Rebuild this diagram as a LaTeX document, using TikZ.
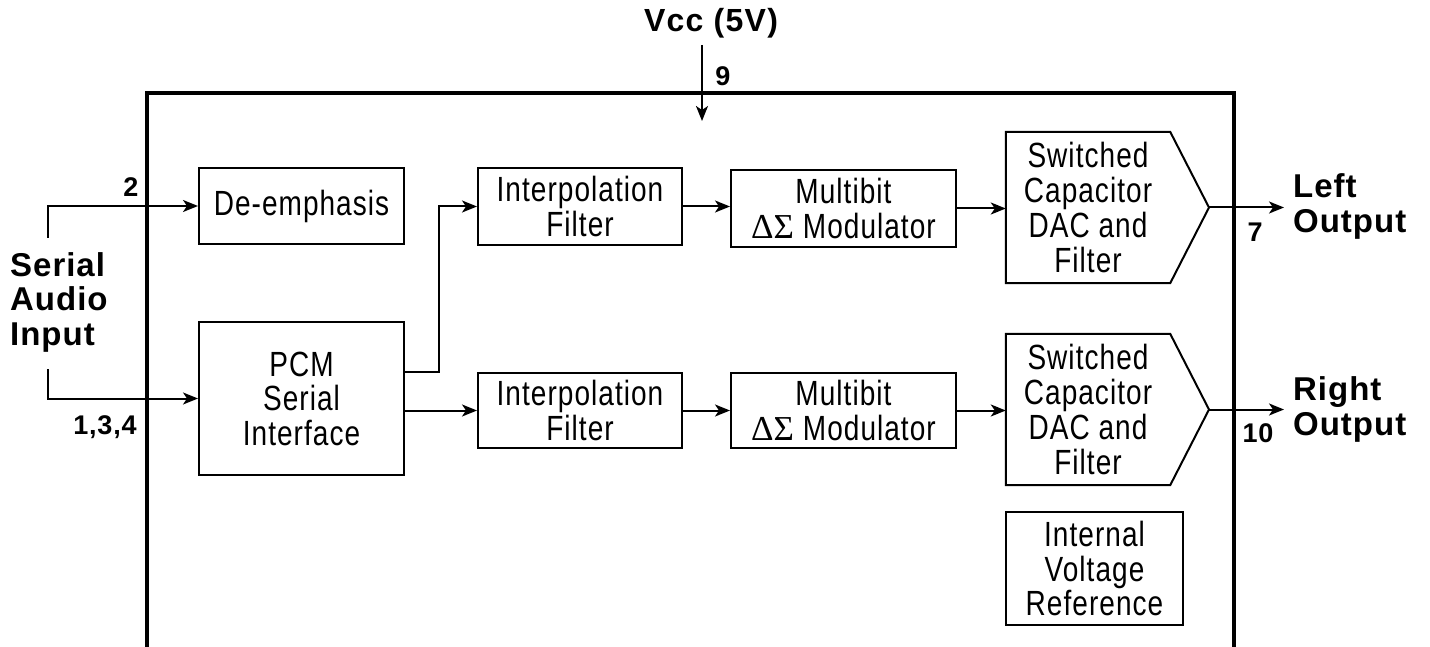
\documentclass[tikz,border=0pt]{standalone}
\usepackage{fontspec}
\setmainfont{Liberation Sans}[FakeStretch=0.8,LetterSpace=3]
\newfontfamily\lblfont{Liberation Sans}[LetterSpace=3]
\newfontfamily\vccfont{Liberation Sans}[LetterSpace=4]
\newfontfamily\grkfont{Liberation Serif}
\usetikzlibrary{arrows.meta}
\begin{document}
\begin{tikzpicture}[x=1pt,y=-1pt,
  blk/.style={draw, line width=2pt, align=center, inner sep=0pt,
    font=\fontsize{35}{34.5}\selectfont},
  dacbox/.style={draw=none, align=center, inner sep=0pt,
    minimum width=164pt, minimum height=151pt,
    font=\fontsize{35}{35}\selectfont},
  arr/.style={line width=2pt, -{Stealth[length=15pt,width=12pt,inset=4pt]}},
  lbl/.style={font=\lblfont\bfseries\fontsize{33}{34.5}\selectfont, align=left, inner sep=0pt},
  pin/.style={font=\lblfont\bfseries\fontsize{27}{28}\selectfont, inner sep=0pt},
  chip/.style={line width=4pt}
]
\useasboundingbox (0,0) rectangle (1430,647);

% chip outline (bottom edge outside the picture)
\draw[chip] (147,647) -- (147,93) -- (1234,93) -- (1234,647);

% blocks
\node[blk, minimum width=205pt, minimum height=76pt] (deemph) at (301.5,206) {De-emphasis};
\node[blk, minimum width=205pt, minimum height=153pt] (pcm) at (301.5,398.5) {PCM\\Serial\\Interface};
\node[blk, minimum width=204pt, minimum height=77pt] (interp1) at (580,206.5) {Interpolation\\Filter};
\node[blk, minimum width=204pt, minimum height=75pt] (interp2) at (580,410.5) {Interpolation\\Filter};
\node[blk, minimum width=225pt, minimum height=77pt] (multi1) at (843.5,208.5) {Multibit\\{\grkfont ΔΣ} Modulator};
\node[blk, minimum width=225pt, minimum height=75pt] (multi2) at (843.5,410.5) {Multibit\\{\grkfont ΔΣ} Modulator};
\node[dacbox] (dac1) at (1088,207.5) {Switched\\Capacitor\\DAC and\\Filter};
\node[dacbox] (dac2) at (1088,409.5) {Switched\\Capacitor\\DAC and\\Filter};
\coordinate (tip1) at (1209,207.5);
\coordinate (tip2) at (1209,409.5);
\draw[line width=2pt, line join=miter] (dac1.north west) -- (dac1.north east) -- (tip1) -- (dac1.south east) -- (dac1.south west) -- cycle;
\draw[line width=2pt, line join=miter] (dac2.north west) -- (dac2.north east) -- (tip2) -- (dac2.south east) -- (dac2.south west) -- cycle;
\node[blk, minimum width=177pt, minimum height=113pt] (ivr) at (1094.5,568.5) {Internal\\Voltage\\Reference};

% inputs
\coordinate (in1) at (48,238);
\coordinate (in2) at (48,369);
\draw[arr] (in1) |- (deemph.west);
\draw[arr] (in2) |- (pcm.west);
\node[lbl, anchor=west] (serin) at (10,302) {Serial\\Audio\\Input};
\node[pin] (p2) at (131,187) {2};
\node[pin] (p134) at (105,427) {1,3,4};

% internal connections
\draw[arr] ([yshift=26.5pt]pcm.east) -- ++(34,0) |- (interp1.west);
\draw[arr] (pcm.east |- interp2.west) -- (interp2.west);
\draw[arr] (interp1.east) -- (interp1.east -| multi1.west);
\draw[arr] (interp2.east) -- (interp2.east -| multi2.west);
\draw[arr] (multi1.east) -- (multi1.east -| dac1.west);
\draw[arr] (multi2.east) -- (multi2.east -| dac2.west);

% outputs
\coordinate (out1) at (1284,207.5);
\coordinate (out2) at (1284,409.5);
\draw[arr] (tip1) -- (out1);
\draw[arr] (tip2) -- (out2);
\node[lbl, anchor=west] (lout) at (1293,206.5) {Left\\Output};
\node[lbl, anchor=west] (rout) at (1293,409.5) {Right\\Output};
\node[pin] (p7) at (1255,232) {7};
\node[pin] (p10) at (1258,433) {10};

% supply
\node[font=\vccfont\bfseries\fontsize{32}{34}\selectfont, inner sep=0pt] (vcc) at (711,23) {Vcc (5V)};
\coordinate (vcctop) at (702,45);
\coordinate (vccin) at (702,121);
\draw[arr] (vcctop) -- (vccin);
\node[pin] (p9) at (723,76) {9};
\end{tikzpicture}
\end{document}
